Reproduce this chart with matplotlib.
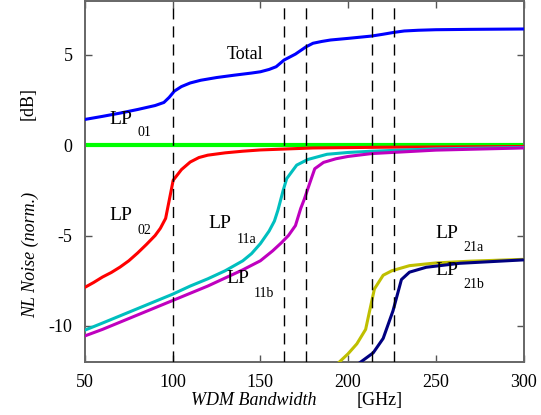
import matplotlib
matplotlib.use("Agg")
import matplotlib.pyplot as plt

plt.rcParams['font.family'] = ['Liberation Serif', 'DejaVu Serif']
plt.rcParams['axes.unicode_minus'] = False

# ---- data ----
x_total = [50, 60, 70, 80, 90, 95, 98, 101, 105, 110, 116, 125, 135, 145, 150, 155, 159, 163.5,
           170, 176, 180, 185, 190, 200, 213.5, 220, 226, 232, 240, 250, 270, 300]
y_total = [1.43, 1.6, 1.78, 1.98, 2.2, 2.37, 2.65, 3.0, 3.25, 3.45, 3.6, 3.75, 3.88, 4.0, 4.07, 4.2,
           4.35, 4.72, 5.05, 5.45, 5.65, 5.75, 5.83, 5.92, 6.05, 6.15, 6.25, 6.33, 6.37, 6.4, 6.42, 6.44]

x_lp01 = [50, 300]
y_lp01 = [0.0, 0.0]

x_lp02 = [50, 55, 60, 65, 70, 75, 80, 85, 90, 93, 96, 100.3, 105, 110, 115, 120, 130, 140, 150,
          180, 220, 300]
y_lp02 = [-7.87, -7.6, -7.3, -7.05, -6.75, -6.4, -5.97, -5.5, -5.0, -4.6, -4.05, -1.94, -1.35,
          -0.93, -0.68, -0.55, -0.42, -0.33, -0.26, -0.15, -0.11, -0.07]

x_lp11a = [50, 60, 70, 80, 90, 100, 110, 120, 130, 140, 145, 150, 155, 158, 160, 163, 165, 170.7,
           177, 188, 200, 213.5, 250, 300]
y_lp11a = [-10.24, -9.85, -9.45, -9.05, -8.65, -8.25, -7.8, -7.4, -6.95, -6.4, -6.0, -5.45, -4.75,
           -4.2, -3.6, -2.5, -1.85, -1.1, -0.79, -0.5, -0.4, -0.33, -0.2, -0.12]

x_lp11b = [50, 60, 70, 80, 90, 100, 110, 120, 130, 140, 150, 157, 162, 166, 170, 173, 175, 178.5,
           181, 186, 193, 200, 213.5, 250, 300]
y_lp11b = [-10.56, -10.2, -9.8, -9.4, -9.0, -8.6, -8.2, -7.8, -7.35, -6.9, -6.4, -5.85, -5.4, -5.0,
           -4.45, -3.5, -3.0, -2.0, -1.3, -0.95, -0.75, -0.62, -0.46, -0.27, -0.15]

x_lp21a = [194, 200, 205, 210, 212, 215, 220, 225, 235, 250, 270, 300]
y_lp21a = [-12.1, -11.55, -11.0, -10.2, -9.3, -7.96, -7.2, -6.95, -6.67, -6.52, -6.42, -6.32]

x_lp21b = [206.6, 214.3, 220, 225.6, 230.4, 235, 244.5, 263.5, 300]
y_lp21b = [-12.05, -11.5, -10.7, -9.17, -7.44, -7.03, -6.76, -6.54, -6.35]

x_dashed = [100.3, 163.5, 175.8, 213.6, 226.2]

x_ticks = [50, 100, 150, 200, 250, 300]
y_ticks = [-10, -5, 0, 5]
y_ticklabels = ['-10', '-5', '0', '5']

# ---- figure ----
fig = plt.figure(figsize=(5.41, 4.15), dpi=100)
ax = fig.add_axes([0.157, 0.128, 0.8107, 0.870])

ax.plot(x_lp01, y_lp01, color='#00FF00', lw=3.0, zorder=2)
ax.plot(x_lp02, y_lp02, color='#FF0000', lw=2.2, zorder=3)
ax.plot(x_lp11a, y_lp11a, color='#00BFBF', lw=2.2, zorder=3)
ax.plot(x_lp11b, y_lp11b, color='#BF00BF', lw=2.2, zorder=3)
ax.plot(x_lp21a, y_lp21a, color='#BFBF00', lw=2.2, zorder=3)
ax.plot(x_lp21b, y_lp21b, color='#000080', lw=2.2, zorder=3)
ax.plot(x_total, y_total, color='#0000FF', lw=2.2, zorder=3)

for xd in x_dashed:
    ax.axvline(xd, color='black', lw=1.0, dashes=(8, 5), zorder=5)

ax.set_xlim(50, 300)
ax.set_ylim(-12, 8)
ax.set_xticks(x_ticks)
ax.set_yticks(y_ticks)
ax.set_yticklabels(y_ticklabels)
ax.tick_params(direction='in', top=True, right=True, length=5, width=1.0,
               color='#555555', labelsize=13, pad=9)
for sp in ax.spines.values():
    sp.set_color('#666666')
    sp.set_linewidth(1.4)

# curve labels
fs_main = 14
fs_sub = 10
ax.text(131, 5.0, 'Total', fontsize=13, va='center', ha='left')
ax.text(64, 1.44, 'LP', fontsize=fs_main, va='center', ha='left')
ax.text(80, 0.72, '01', fontsize=fs_sub, va='center', ha='left')
ax.text(64, -3.9, 'LP', fontsize=fs_main, va='center', ha='left')
ax.text(80, -4.72, '02', fontsize=fs_sub, va='center', ha='left')
ax.text(120.5, -4.35, 'LP', fontsize=fs_main, va='center', ha='left')
ax.text(136.5, -5.2, '11a', fontsize=fs_sub, va='center', ha='left')
ax.text(130.5, -7.4, 'LP', fontsize=fs_main, va='center', ha='left')
ax.text(146.5, -8.2, '11b', fontsize=fs_sub, va='center', ha='left')
ax.text(249.5, -4.9, 'LP', fontsize=fs_main, va='center', ha='left')
ax.text(265.5, -5.65, '21a', fontsize=fs_sub, va='center', ha='left')
ax.text(249.5, -6.95, 'LP', fontsize=fs_main, va='center', ha='left')
ax.text(265.5, -7.7, '21b', fontsize=fs_sub, va='center', ha='left')

# axis labels
fig.text(28/541, 1 - 104/415, '[dB]', rotation=90, fontsize=13, va='center', ha='center')
fig.text(30/541, 1 - 255/415, 'NL Noise (norm.)', rotation=90, fontsize=13, style='italic',
         va='center', ha='center')
fig.text(254/541, 1 - 400/415, 'WDM Bandwidth', fontsize=13, style='italic',
         va='center', ha='center')
fig.text(380/541, 1 - 400/415, '[GHz]', fontsize=13, va='center', ha='center')

fig.savefig('out.png', dpi=100)
